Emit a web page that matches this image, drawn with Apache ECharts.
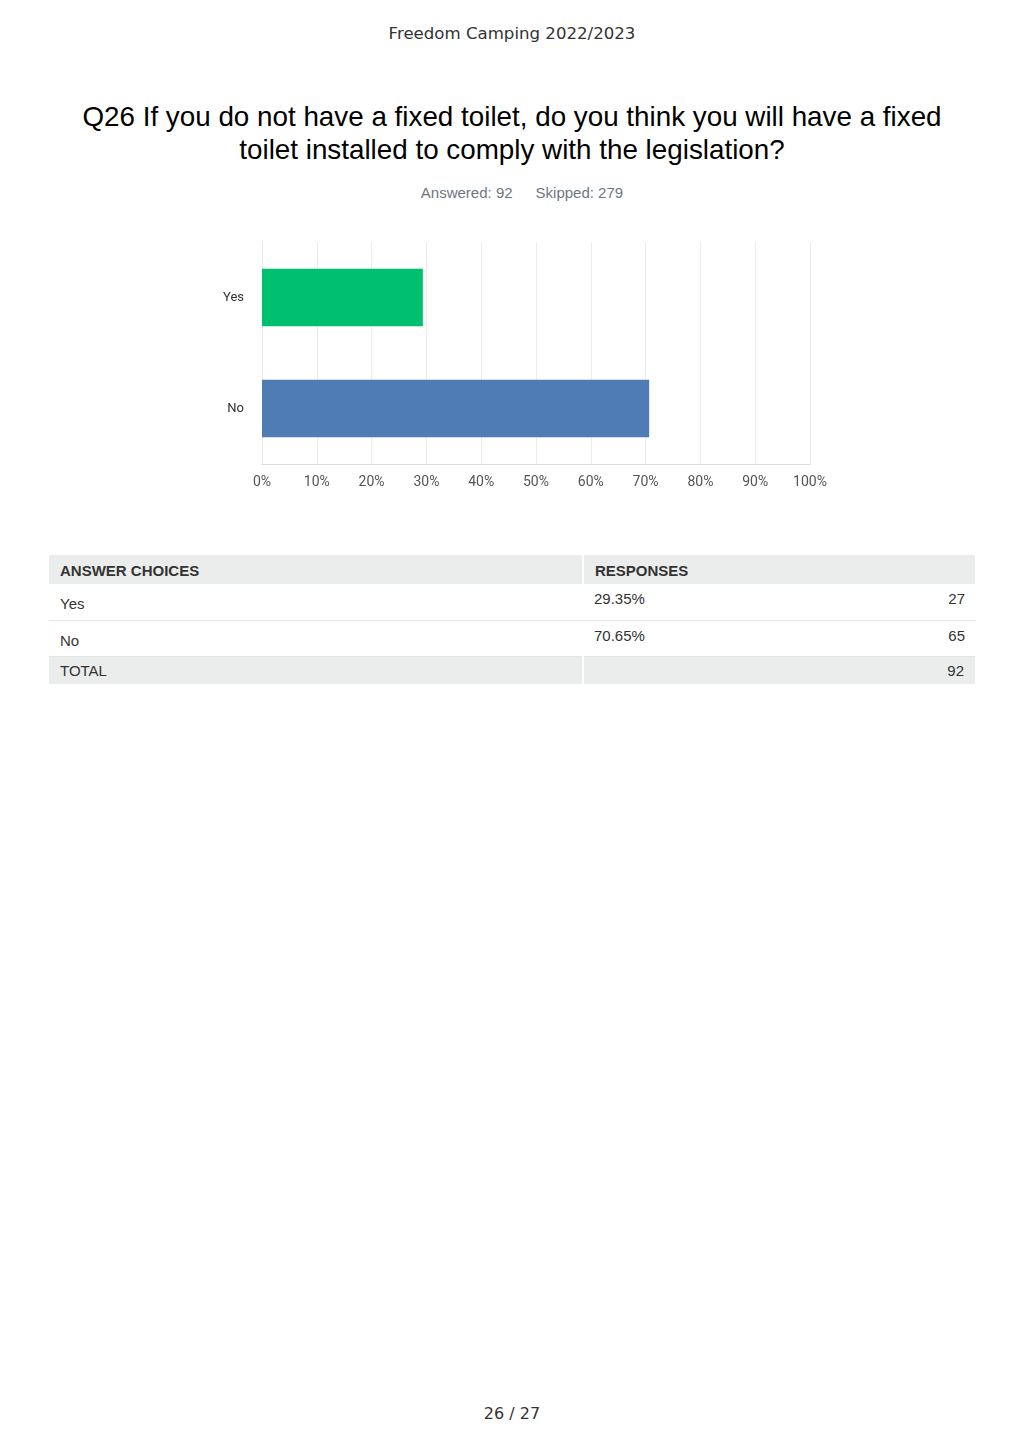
<!DOCTYPE html>
<html>
<head>
    <meta charset="utf-8">
    <title>Q26 Fixed toilet</title>
    <script src="https://cdn.jsdelivr.net/npm/echarts@6/dist/echarts.min.js"></script>
    <style>
        body { margin: 0; width: 1024px; height: 1449px; position: relative; background: #fff; }
        .hdr { position: absolute; top: 24px; left: 0; width: 1024px; text-align: center;
               font-family: "DejaVu Sans", sans-serif; font-size: 16.6px; color: #333; }
        .q { position: absolute; top: 100px; left: 0; width: 1024px; text-align: center;
             font-family: "Liberation Sans", Arial, sans-serif; font-size: 27.8px; line-height: 33px; color: #000; }
        .meta { position: absolute; top: 184px; left: 10px; width: 1024px; text-align: center;
                font-family: "Liberation Sans", Arial, sans-serif; font-size: 15px; color: #6b7785; }
        .meta span { margin: 0 11.5px; }
        #main { position: absolute; left: 200px; top: 230px; width: 640px; height: 280px; }
        table { position: absolute; left: 49px; top: 555px; width: 928px; border-collapse: collapse;
                font-family: "Liberation Sans", Arial, sans-serif; font-size: 15px; color: #333; }
        td, th { padding: 0 11px; text-align: left; box-sizing: border-box; }
        th { background: #ebeded; height: 29px; font-weight: bold; border-right: 2px solid #fff; padding-top: 2px; }
        tr.row td { height: 36px; padding-top: 0; padding-bottom: 0; border-bottom: 1px solid #e4e6e6; }
        tr.row td.ans { padding-top: 4px; }
        tr.row td.pct, tr.row td.cnt { vertical-align: top; padding-top: 6px; }
        tr.tot td { background: #ebeded; height: 28px; border-right: 2px solid #fff; }
        .cnt { text-align: right !important; }
        .foot { position: absolute; top: 1404px; left: 0; width: 1024px; text-align: center;
                font-family: "DejaVu Sans", sans-serif; font-size: 16px; color: #333; }
    </style>
</head>
<body>
    <div class="hdr">Freedom Camping 2022/2023</div>
    <div class="q">Q26 If you do not have a fixed toilet, do you think you will have a fixed<br>toilet installed to comply with the legislation?</div>
    <div class="meta"><span>Answered: 92</span><span>Skipped: 279</span></div>

    <!-- chart container -->
    <div id="main"></div>

    <table>
        <tr><th style="width:534px">ANSWER CHOICES</th><th colspan="2">RESPONSES</th></tr>
        <tr class="row"><td class="ans">Yes</td><td class="pct">29.35%</td><td class="cnt">27</td></tr>
        <tr class="row"><td class="ans">No</td><td class="pct">70.65%</td><td class="cnt">65</td></tr>
        <tr class="tot"><td>TOTAL</td><td colspan="2" class="cnt">92</td></tr>
    </table>

    <div class="foot">26 / 27</div>

    <script type="text/javascript">
        // answer choices and their share of responses
        var choices = ['Yes', 'No'];
        var percents = [29.35, 70.65];
        var barColors = ['#00bf6f', '#507cb6'];
        var tickLabels = ['0%', '10%', '20%', '30%', '40%', '50%', '60%', '70%', '80%', '90%', '100%'];

        var myChart = echarts.init(document.getElementById('main'));

        var option = {
            animation: false,
            grid: {
                left: 62,
                right: 30,
                top: 12,
                height: 222
            },
            xAxis: {
                type: 'value',
                min: 0,
                max: 100,
                interval: 10,
                axisLine: { show: true, lineStyle: { color: '#dcdcdc' } },
                axisTick: { show: false },
                splitLine: { lineStyle: { color: '#ececec' } },
                axisLabel: {
                    color: '#555',
                    fontSize: 14,
                    fontFamily: 'Roboto, sans-serif',
                    margin: 11,
                    formatter: function (v) { return tickLabels[v / 10]; }
                }
            },
            yAxis: {
                type: 'category',
                inverse: true,
                data: choices,
                axisLine: { show: true, lineStyle: { color: '#e6e6e6' } },
                axisTick: { show: false },
                axisLabel: {
                    color: '#333',
                    fontSize: 13,
                    fontFamily: 'Roboto, sans-serif',
                    margin: 18
                }
            },
            series: [{
                type: 'bar',
                barWidth: '52%',
                data: percents.map(function (v, i) {
                    return { value: v, itemStyle: { color: barColors[i] } };
                })
            }]
        };

        myChart.setOption(option);
    </script>
</body>
</html>
